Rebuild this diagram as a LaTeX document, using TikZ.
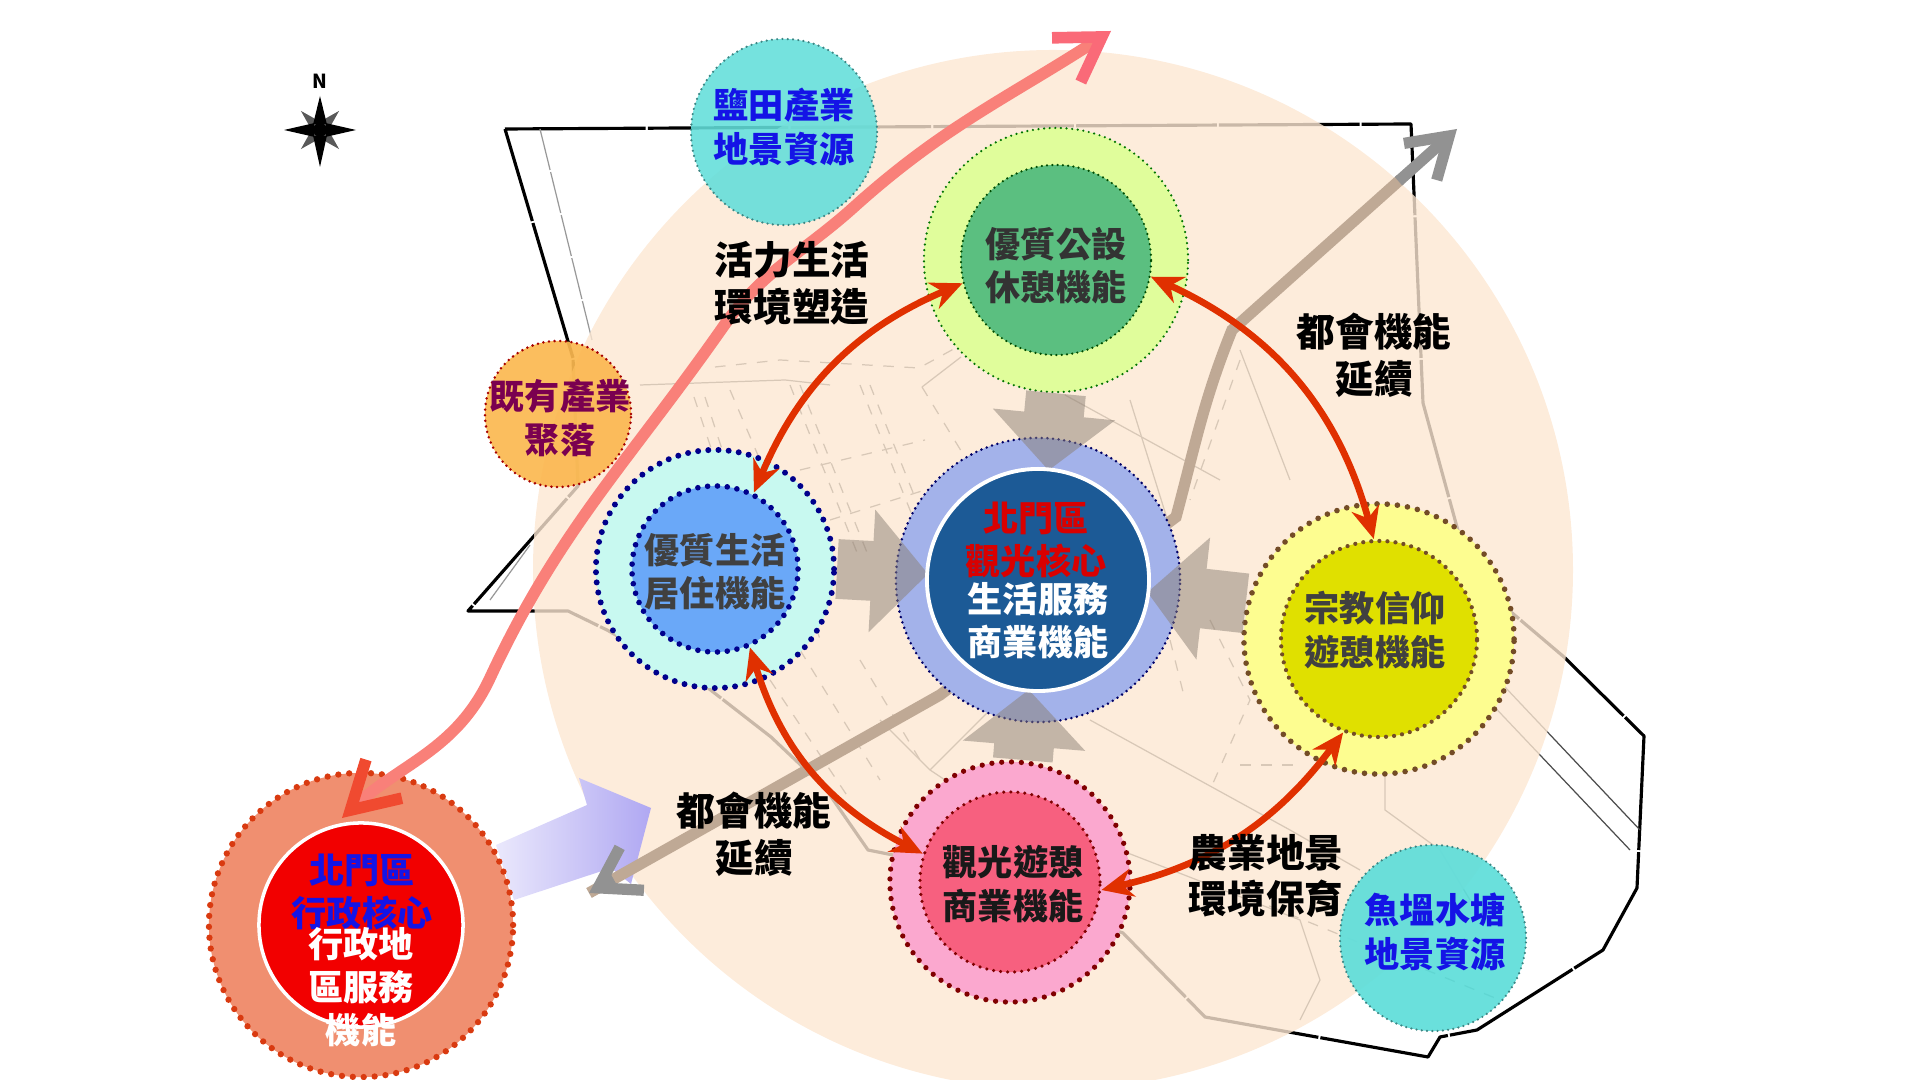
\documentclass[tikz,border=0pt]{standalone}
\usepackage{fontspec}
\setmainfont{Noto Sans CJK TC}
\usepackage{tikz}
\usetikzlibrary{calc,arrows.meta}
\definecolor{beige}{HTML}{FCE7D2}
\definecolor{roadbrown}{HTML}{BFA995}
\definecolor{roadgray}{HTML}{929292}
\definecolor{coral}{HTML}{F98079}
\definecolor{coralhead}{HTML}{F04A30}
\definecolor{coraltop}{HTML}{FA6A78}
\definecolor{arrowred}{HTML}{E03000}
\definecolor{teal}{HTML}{62DEDA}
\definecolor{labelblue}{HTML}{1414E6}
\definecolor{blockgray}{HTML}{8B7F73}
\definecolor{ringblue}{HTML}{A3B2EA}
\definecolor{corenavy}{HTML}{1C5A96}
\definecolor{ringgreen}{HTML}{E0FD9B}
\definecolor{coremoss}{HTML}{5BBF80}
\definecolor{ringcyan}{HTML}{C8F9F0}
\definecolor{coresky}{HTML}{6AA8F8}
\definecolor{ringyellow}{HTML}{FDFD90}
\definecolor{coreolive}{HTML}{E0E000}
\definecolor{ringpink}{HTML}{FBA8CF}
\definecolor{corerose}{HTML}{F7607F}
\definecolor{ringsalmon}{HTML}{F08F70}
\definecolor{dotorange}{HTML}{D93A10}
\definecolor{villageorange}{HTML}{FBB850}
\definecolor{labelplum}{HTML}{7A0050}
\definecolor{lavlight}{HTML}{EAE8FC}
\definecolor{lavdark}{HTML}{B0A8F2}
\tikzset{
  disc/.style={circle, inner sep=0pt, minimum size=#1},
  dots/.style={line cap=round, dash pattern=on 0pt off #1},
  cjktext/.style={align=center, inner sep=0pt, font=\fontsize{10}{12.3}\selectfont\bfseries},
  bigtext/.style={align=center, inner sep=0pt, text=black, font=\fontsize{11}{13.3}\selectfont\bfseries},
  bothway/.style={draw=arrowred, line width=1.9pt, {Stealth[length=9pt,width=8pt]}-{Stealth[length=9pt,width=8pt]}},
  blockarrow/.style={draw=blockgray, line width=17pt, -{Triangle[length=16pt,width=34pt]}, shorten >=1.1cm},
  mapedge/.style={line width=.9pt, black},
  street/.style={line width=.35pt, black!70},
}
\begin{document}
\begin{tikzpicture}[x=0.01cm,y=0.01cm]
  \useasboundingbox (0,0) rectangle (1920,-1080);
  % planning area
  \draw[mapedge, line join=round, dash pattern=on 40pt off .6pt]
  (505,-129)--(1411,-124)--(1423,-403)--(1460,-538)--(1511,-612)--(1564,-657)
  --(1644,-736)--(1637,-888)--(1603,-950)--(1477,-1030)--(1440,-1037)
  --(1428,-1057)--(1205,-1017)--(1123,-933)--(893,-855)--(868,-850)
  --(825,-788)--(771,-737)--(708,-688)--(607,-630)--(568,-611)--(468,-611)
  --(578,-486)--(573,-358)--cycle;
  \draw[street, black!40, dash pattern=on 12pt off .6pt](540,-129)--(592,-340);
  \draw[street, black!40](490,-600)--(530,-545);
  % streets
  \draw[street, dashed](715,-367)--(780,-360)--(919,-368)--(961,-345);
  \draw[street](640,-385)--(785,-380)--(830,-385);
  \draw[street, dashed](694,-397)--(735,-520);
  \draw[street, dashed](705,-397)--(745,-520);
  \draw[street, dashed](730,-390)--(790,-530)--(820,-640);
  \draw[street, dashed](790,-385)--(860,-560);
  \draw[street, dashed](800,-385)--(870,-560);
  \draw[street, dashed](860,-385)--(930,-560);
  \draw[street, dashed](870,-385)--(940,-560);
  \draw[street, dashed](922,-387)--(985,-490);
  \draw[street](922,-387)--(961,-357);
  \draw[street, dashed](800,-470)--(925,-440);
  \draw[street, dashed](830,-520)--(925,-490);
  \draw[street](1065,-395)--(1220,-480);
  \draw[street](1130,-400)--(1180,-560);
  \draw[street, dashed](1240,-360)--(1190,-500);
  \draw[street](1240,-350)--(1290,-480);
  \draw[street, dashed](800,-650)--(880,-780);
  \draw[street, dashed](770,-680)--(850,-800);
  \draw[street, dashed](860,-660)--(920,-760);
  \draw[street](880,-720)--(930,-770)--(960,-790);
  \draw[street](930,-770)--(990,-710);
  \draw[street](1090,-720)--(1290,-830)--(1360,-870);
  \draw[street, dashed](1210,-620)--(1250,-700)--(1210,-790);
  \draw[street, dashed](1170,-640)--(1185,-700);
  \draw[street](1120,-850)--(1300,-920)--(1320,-980)--(1300,-1020);
  \draw[street](1385,-770)--(1385,-810)--(1440,-850)--(1470,-900);
  \draw[street, dashed](1230,-890)--(1500,-1000);
  \draw[street](1470,-650)--(1640,-830);
  \draw[street](1450,-660)--(1630,-850);
  \draw[street, dashed](1240,-765)--(1300,-765);
  % influence area
  \fill[beige, fill opacity=.8](1053,-570) circle[radius=520];
  % compass
  \node[inner sep=0pt, font=\fontsize{5.5}{6}\selectfont\bfseries] (north) at (320,-81) {N};
  \coordinate (compass) at (320,-130);
  \foreach \ang in {45,135,225,315}
    \fill[black!65]($(compass)+(\ang:27)$)--($(compass)+(\ang+50:8)$)--($(compass)+(\ang-50:8)$)--cycle;
  \foreach \ang/\len in {0/36,90/34,180/36,270/37}
    \fill[black]($(compass)+(\ang:\len)$)--($(compass)+(\ang+50:9)$)--($(compass)+(\ang-50:9)$)--cycle;
  \fill[black](compass) circle[radius=7];
  % transit corridor
  \shade[left color=lavlight, right color=lavdark]
  (496,-845)--(587,-805)--(579,-778)--(651,-808)--(631,-884)--(611,-868)--(514,-900)--cycle;
  \coordinate (roadtail) at (589,-893);
  \coordinate (roadmid) at (940,-695);
  \coordinate (roadbase) at (1176,-517);
  \coordinate (roadknee) at (1232,-330);
  \coordinate (roadtip) at (1457,-129);
  \draw[roadbrown, line width=3.2pt](roadtail)--(roadmid)--(roadbase)
  to[out=75,in=-112](roadknee)--($(roadknee)!0.75!(roadtip)$);
  \draw[roadgray, line width=3.2pt, -{Straight Barb[length=11pt,width=14pt]}]
  ($(roadknee)!0.74!(roadtip)$)--(roadtip);
  \draw[roadgray, line width=3.2pt, {Straight Barb[length=11pt,width=14pt]}-]
  (roadtail)--($(roadtail)!0.07!(roadmid)$);
  % functions
  \node[disc=2.84cm, fill=ringblue, draw=blue!40!black, line width=.8pt, dots=1.6pt] (centerring) at (1038,-580) {};
  \node[disc=2.64cm, fill=ringgreen, draw=green!45!black, line width=.7pt, dots=1.6pt] (greenring) at (1056,-260) {};
  \node[disc=2.38cm, fill=ringcyan, draw=blue!55!black, line width=1.7pt, dots=2.9pt] (leftring) at (715,-569) {};
  \node[disc=2.70cm, fill=ringyellow, draw=brown!60!black, line width=1.6pt, dots=2.9pt] (yellowring) at (1379,-639) {};
  \node[disc=2.40cm, fill=ringpink, draw=red!50!black, line width=1.5pt, dots=2.8pt] (pinkring) at (1010,-882) {};
  \node[disc=1.86cm, fill=teal, fill opacity=.88, draw=teal!60!black, line width=.7pt, dots=1.5pt] (saltpan) at (784,-132) {};
  \node[disc=1.46cm, fill=villageorange, fill opacity=.92, draw=red!65!black, line width=.8pt, dots=1.6pt] (village) at (558,-414) {};
  \node[disc=1.86cm, fill=teal, fill opacity=.95, draw=teal!60!black, line width=.7pt, dots=1.5pt] (fishpond) at (1433,-938) {};
  \node[disc=3.04cm, fill=ringsalmon, draw=dotorange, line width=1.8pt, dots=3.1pt] (adminring) at (361,-925) {};
  \node[disc=2.04cm, fill=red!95!black, draw=white, line width=1pt] (admincore) at (361,-925) {};
  % life corridor
  \coordinate (coraltail) at (342,-818);
  \coordinate (coralb) at (490,-678);
  \coordinate (coralc) at (723,-327);
  \coordinate (corald) at (854,-207);
  \coordinate (coraltip) at (1111,-31);
  \draw[coral, line width=3.3pt, {Straight Barb[length=13pt,width=15pt,color=coralhead]}-{Straight Barb[length=12pt,width=15pt,color=coraltop]}]
  (coraltail) to[out=43,in=-115](coralb) to[out=65,in=-125](coralc)
  to[out=55,in=-138](corald) to[out=42,in=-147](coraltip);
  \begin{scope}[transparency group, opacity=.5]
    \draw[blockarrow](greenring.south)--(centerring.center);
    \draw[blockarrow](leftring.east)--(centerring.center);
    \draw[blockarrow](yellowring.165)--(centerring.center);
    \draw[blockarrow](pinkring.84)--(centerring.center);
  \end{scope}
  \node[disc=2.22cm, fill=corenavy, draw=white, line width=1.1pt] (centercore) at (1038,-580) {};
  \node[disc=1.90cm, fill=coremoss, draw=green!30!black, line width=.7pt, dots=1.5pt] (greencore) at (1056,-260) {};
  \node[disc=1.66cm, fill=coresky, draw=blue!55!black, line width=1.6pt, dots=2.8pt] (leftcore) at (715,-569) {};
  \node[disc=1.96cm, fill=coreolive, draw=brown!60!black, line width=1.2pt, dots=2.3pt] (yellowcore) at (1379,-639) {};
  \node[disc=1.80cm, fill=corerose, draw=red!50!black, line width=1pt, dots=2pt] (pinkcore) at (1010,-882) {};
  % links
  \draw[bothway](greencore.194) to[bend right=22](leftcore.63);
  \draw[bothway](greencore.-10) to[bend left=25](yellowcore.93);
  \draw[bothway](yellowcore.-111) to[bend left=20](pinkcore.-5);
  \draw[bothway](pinkcore.162) to[bend left=23](leftcore.-66);
  % labels
  \node[cjktext, text=labelblue] (saltlabel) at (784,-127) {鹽田產業\\地景資源};
  \node[cjktext, text=black!80] (greenlabel) at (1056,-266) {優質公設\\休憩機能};
  \node[cjktext, text=labelplum] (villagelabel) at (560,-418) {既有產業\\聚落};
  \node[cjktext, text=black!75] (leftlabel) at (715,-572) {優質生活\\居住機能};
  \node[cjktext, text=red!85!black] (centertop) at (1036,-540) {北門區\\觀光核心};
  \node[cjktext, text=white] (centerlow) at (1038,-621) {生活服務\\商業機能};
  \node[cjktext, text=black!75] (yellowlabel) at (1375,-630) {宗教信仰\\遊憩機能};
  \node[cjktext, text=black!90] (pinklabel) at (1013,-884) {觀光遊憩\\商業機能};
  \node[cjktext, text=labelblue] (fishlabel) at (1435,-932) {魚塭水塘\\地景資源};
  \node[cjktext, text=labelblue] (admintop) at (362,-892) {北門區\\行政核心};
  \node[cjktext, text=white] (adminlow) at (361,-987) {行政地\\區服務\\機能};
  \node[bigtext] (lifetext) at (792,-283) {活力生活\\環境塑造};
  \node[bigtext] (urbantext) at (1374,-355) {都會機能\\延續};
  \node[bigtext] (westtext) at (754,-834) {都會機能\\延續};
  \node[bigtext] (farmtext) at (1266,-876) {農業地景\\環境保育};
\end{tikzpicture}
\end{document}
